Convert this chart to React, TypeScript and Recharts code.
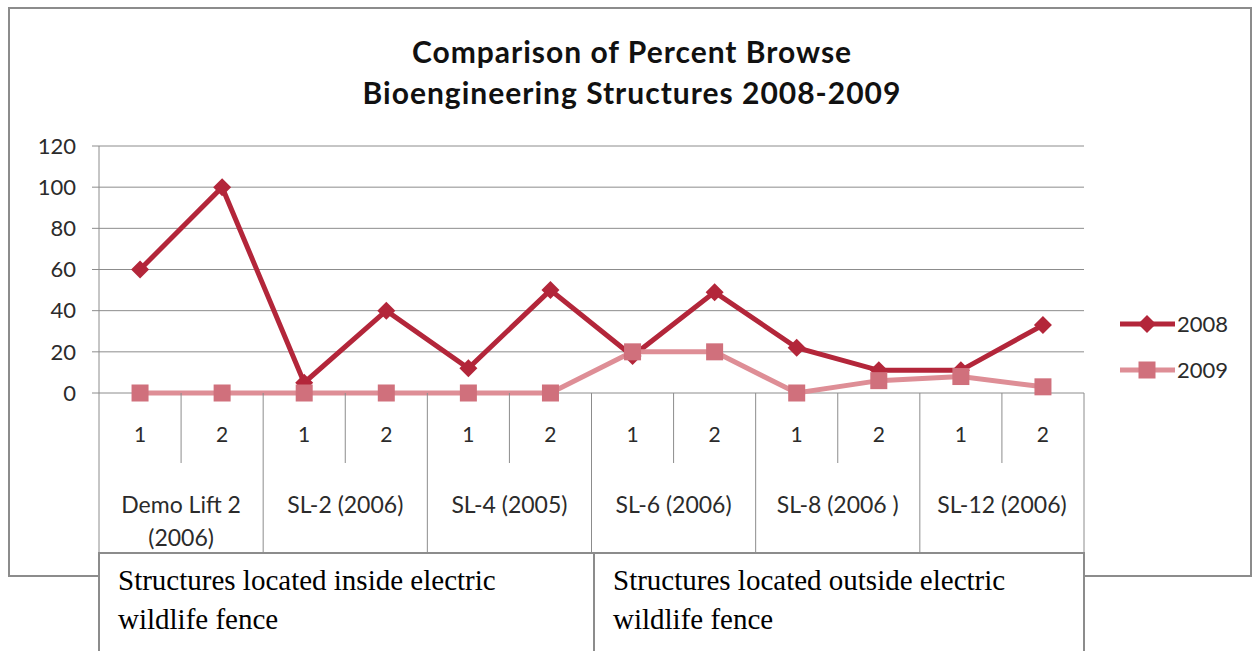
import { LineChart, Line, XAxis, YAxis, CartesianGrid } from "recharts";

// chart values
const structures = ["Demo Lift 2 (2006)", "SL-2 (2006)", "SL-4 (2005)", "SL-6 (2006)", "SL-8 (2006 )", "SL-12 (2006)"];
const replicates = ["1", "2"];
const browse2008 = [60, 100, 5, 40, 12, 50, 18, 49, 22, 11, 11, 33];
const browse2009 = [0, 0, 0, 0, 0, 0, 20, 20, 0, 6, 8, 3];
const yTicks = [0, 20, 40, 60, 80, 100, 120];
const seriesNames = ["2008", "2009"];
const titleLines = ["Comparison of Percent Browse", "Bioengineering Structures 2008-2009"];
const fenceNotes = [
  "Structures located inside electric wildlife fence",
  "Structures located outside electric wildlife fence",
];

const data = structures.flatMap((s, g) =>
  replicates.map((r, k) => {
    const i = g * replicates.length + k;
    return { key: `${s}|${r}`, structure: s, rep: r, y2008: browse2008[i], y2009: browse2009[i] };
  })
);

// layout
const W = 1255;
const H = 651;
const PLOT_L = 99;
const PLOT_R = 1084;
const PLOT_T = 146;
const PLOT_B = 393;
const AXIS_H = 160;
const BAND = (PLOT_R - PLOT_L) / data.length;

const GRID = "#8c8c8c";
const TEXT = "#2b2b2b";
const SANS = "Lato, 'Open Sans', sans-serif";
const RED = "#B3263A";
const PINK = "#DE8E96";
const PINK_MARK = "#D0707C";

// split long structure names onto two lines like Excel does
function wrapLabel(s: string) {
  if (s.length <= 13) return [s];
  const cut = s.lastIndexOf(" (");
  return cut > 0 ? [s.slice(0, cut), s.slice(cut + 1)] : [s];
}

function CategoryTick(props: any) {
  const { x, y, payload, index } = props;
  const i = index ?? payload.index;
  const row = data[i];
  const half = BAND / 2;
  const last = i % replicates.length === replicates.length - 1;
  const lines = last ? wrapLabel(row.structure) : [];
  const groupX = x - (BAND * (replicates.length - 1)) / 2;
  return (
    <g>
      {i === 0 && <line x1={x - half} x2={x - half} y1={y} y2={y + AXIS_H} stroke={GRID} />}
      <line x1={x + half} x2={x + half} y1={y} y2={y + (last ? AXIS_H : 70)} stroke={GRID} />
      <text x={x} y={y + 49} textAnchor="middle" fontSize={21} fontFamily={SANS} fill={TEXT}>
        {row.rep}
      </text>
      {lines.map((ln, k) => (
        <text key={k} x={groupX} y={y + 120 + k * 33} textAnchor="middle" fontSize={23} fontFamily={SANS} fill={TEXT}>
          {ln}
        </text>
      ))}
    </g>
  );
}

function Diamond(props: any) {
  const { cx, cy } = props;
  if (cx == null || cy == null) return null;
  const r = 9;
  return <path d={`M${cx},${cy - r}L${cx + r},${cy}L${cx},${cy + r}L${cx - r},${cy}Z`} fill={RED} />;
}

function Square(props: any) {
  const { cx, cy } = props;
  if (cx == null || cy == null) return null;
  const s = 17;
  return <rect x={cx - s / 2} y={cy - s / 2} width={s} height={s} fill={PINK_MARK} />;
}

export default function App() {
  return (
    <div style={{ position: "absolute", left: 0, top: 0, width: W, height: H, overflow: "hidden", background: "#fff" }}>
      {/* chart frame */}
      <div
        style={{
          position: "absolute",
          left: 8,
          top: 7,
          width: 1244,
          height: 570,
          border: `2px solid ${GRID}`,
          boxSizing: "border-box",
        }}
      />
      <div style={{ position: "absolute", left: 0, top: 0 }}>
        <LineChart
          width={W}
          height={H}
          data={data}
          margin={{ top: PLOT_T, right: W - PLOT_R, bottom: H - PLOT_B - AXIS_H, left: PLOT_L - 79 }}
        >
          <CartesianGrid vertical={false} stroke={GRID} />
          <XAxis
            dataKey="key"
            scale="band"
            interval={0}
            height={AXIS_H}
            axisLine={false}
            tickLine={false}
            tickSize={0}
            tickMargin={0}
            tick={<CategoryTick />}
          />
          <YAxis
            domain={[0, 120]}
            ticks={yTicks}
            interval={0}
            width={79}
            tickSize={7}
            tickMargin={16}
            axisLine={{ stroke: GRID }}
            tickLine={{ stroke: GRID }}
            tick={{ fill: TEXT, fontSize: 22, fontFamily: SANS }}
          />
          <Line
            dataKey="y2008"
            name={seriesNames[0]}
            stroke={RED}
            strokeWidth={5}
            dot={<Diamond />}
            activeDot={false}
            isAnimationActive={false}
          />
          <Line
            dataKey="y2009"
            name={seriesNames[1]}
            stroke={PINK}
            strokeWidth={5}
            dot={<Square />}
            activeDot={false}
            isAnimationActive={false}
          />
        </LineChart>
      </div>
      {/* title and legend */}
      <svg width={W} height={H} style={{ position: "absolute", left: 0, top: 0, pointerEvents: "none" }}>
        {titleLines.map((t, k) => (
          <text
            key={k}
            x={632}
            y={63 + k * 41}
            textAnchor="middle"
            fontSize={30}
            fontWeight={700}
            letterSpacing={1}
            fontFamily={SANS}
            fill="#111"
          >
            {t}
          </text>
        ))}
        {seriesNames.map((n, k) => {
          const y = 324 + k * 46;
          return (
            <g key={n}>
              <line x1={1120} x2={1175} y1={y} y2={y} stroke={k === 0 ? RED : PINK} strokeWidth={5} />
              {k === 0 ? <Diamond cx={1147} cy={y} /> : <Square cx={1147} cy={y} />}
              <text x={1177} y={y + 8} fontSize={22} fontFamily={SANS} fill={TEXT}>
                {n}
              </text>
            </g>
          );
        })}
      </svg>
      {/* notes table under the axis */}
      <div
        style={{
          position: "absolute",
          left: 98,
          top: 552,
          width: 987,
          height: 120,
          display: "flex",
          border: `2px solid ${GRID}`,
          borderBottom: "none",
          boxSizing: "border-box",
          background: "#fff",
        }}
      >
        {fenceNotes.map((t, k) => (
          <div
            key={k}
            style={{
              flex: "0 0 auto",
              width: k === 0 ? 493 : 490,
              borderLeft: k === 0 ? "none" : `2px solid ${GRID}`,
              boxSizing: "border-box",
              padding: "7px 30px 0 18px",
              fontFamily: "'Liberation Serif', serif",
              fontSize: 29,
              lineHeight: "39px",
              color: "#000",
            }}
          >
            {t}
          </div>
        ))}
      </div>
    </div>
  );
}
